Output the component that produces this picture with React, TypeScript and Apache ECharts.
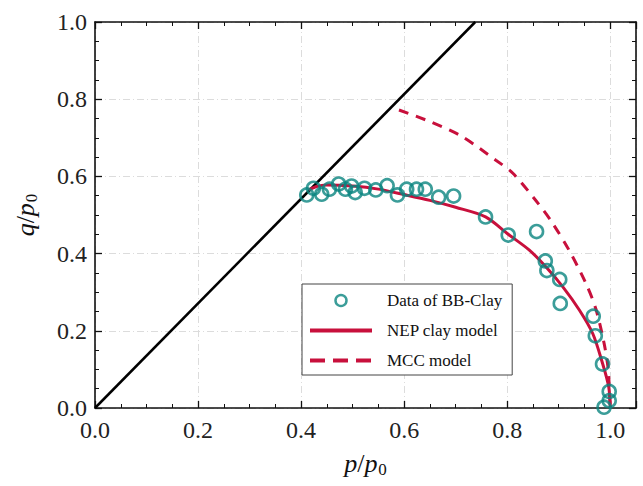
import React, { useEffect, useRef } from "react";
import * as echarts from "echarts";

const bbX = [0.411, 0.424, 0.44, 0.455, 0.473, 0.486, 0.498, 0.505, 0.523, 0.545, 0.567, 0.587, 0.605, 0.624, 0.641, 0.667, 0.696, 0.758, 0.802, 0.857, 0.874, 0.877, 0.902, 0.903, 0.967, 0.971, 0.985, 0.998, 0.998, 0.988];
const bbY = [0.552, 0.569, 0.554, 0.567, 0.58, 0.567, 0.575, 0.558, 0.569, 0.565, 0.576, 0.552, 0.567, 0.567, 0.567, 0.546, 0.549, 0.495, 0.448, 0.457, 0.381, 0.356, 0.333, 0.271, 0.238, 0.187, 0.114, 0.043, 0.019, 0.002];

const nepX = [0.415, 0.43, 0.45, 0.5, 0.55, 0.6, 0.65, 0.7, 0.758, 0.802, 0.843, 0.875, 0.908, 0.94, 0.966, 0.985, 0.997, 1.0];
const nepY = [0.565, 0.574, 0.578, 0.575, 0.567, 0.553, 0.538, 0.52, 0.495, 0.45, 0.409, 0.366, 0.314, 0.254, 0.193, 0.116, 0.055, 0.0];

const mccX = [0.59, 0.65, 0.71, 0.778, 0.811, 0.856, 0.885, 0.92, 0.953, 0.972, 0.988, 0.996, 1.0];
const mccY = [0.772, 0.742, 0.705, 0.642, 0.608, 0.537, 0.485, 0.409, 0.322, 0.257, 0.168, 0.1, 0.0];

const cslX = [0, 0.738];
const cslY = [0, 1.0];

const xTicks = ["0.0", "0.2", "0.4", "0.6", "0.8", "1.0"];
const yTicks = ["0.0", "0.2", "0.4", "0.6", "0.8", "1.0"];

const TEAL = "#0a8580";
const RED = "#c8103c";
const FONT = "Liberation Serif";

const zip = (xs: number[], ys: number[]) => xs.map((x, i) => [x, ys[i]]);

const fmt = (list: string[]) => (v: number) => {
  const s = v.toFixed(1);
  return Math.abs(v * 5 - Math.round(v * 5)) < 1e-6 && list.includes(s) ? s : "";
};

const titleRich = {
  i: { fontFamily: FONT, fontStyle: "italic", fontSize: 26, color: "#111", lineHeight: 30 },
  n: { fontFamily: FONT, fontSize: 26, color: "#111", lineHeight: 30 },
  s: { fontFamily: FONT, fontSize: 17, color: "#111", verticalAlign: "bottom", lineHeight: 17, padding: [0, 0, 0, 1] },
};

const hidden = { color: "rgba(0,0,0,0)", borderColor: "rgba(0,0,0,0)", borderWidth: 0 };

export default function App() {
  const ref = useRef<HTMLDivElement>(null);
  useEffect(() => {
    if (!ref.current) return;
    const chart = echarts.init(ref.current, undefined, { renderer: "svg" });
    const axisLine = { show: true, onZero: false, lineStyle: { color: "#111", width: 1.6 } };
    const splitLine = { show: true, lineStyle: { color: "#dcdcdc", width: 1, type: [7, 3, 1, 3] } };
    const tick = { show: true, inside: true, length: 7, lineStyle: { color: "#111", width: 1.3 } };
    const minorTick = { show: true, splitNumber: 4, length: 4, lineStyle: { color: "#111", width: 1 } };
    const label = { color: "#222", fontFamily: FONT, fontSize: 24 };
    chart.setOption({
      animation: false,
      backgroundColor: "#fff",
      grid: { left: 95, right: 7, top: 22, bottom: 78, containLabel: false },
      xAxis: [
        {
          type: "value", min: 0, max: 1.05, interval: 0.2, position: "bottom",
          axisLine, axisTick: tick, minorTick, splitLine,
          axisLabel: { ...label, margin: 10, formatter: fmt(xTicks) },
          name: "{i|p}{n|/}{i|p}{s|0}", nameLocation: "middle", nameGap: 40,
          nameTextStyle: { rich: titleRich },
        },
        {
          type: "value", min: 0, max: 1.05, interval: 0.2, position: "top",
          axisLine, axisTick: tick, minorTick, splitLine: { show: false }, axisLabel: { show: false },
        },
      ],
      yAxis: [
        {
          type: "value", min: 0, max: 1.0, interval: 0.2, position: "left",
          axisLine, axisTick: tick, minorTick, splitLine,
          axisLabel: { ...label, margin: 8, formatter: fmt(yTicks) },
          name: "{i|q}{n|/}{i|p}{s|0}", nameLocation: "middle", nameGap: 55, nameRotate: 90,
          nameTextStyle: { rich: titleRich },
        },
        {
          type: "value", min: 0, max: 1.0, interval: 0.2, position: "right",
          axisLine, axisTick: tick, minorTick, splitLine: { show: false }, axisLabel: { show: false },
        },
      ],
      legend: {
        orient: "vertical", left: 302, top: 284, width: 206,
        backgroundColor: "#fff", borderColor: "#444", borderWidth: 1, borderRadius: 0,
        padding: [8, 10, 6, 6], itemGap: 13, itemWidth: 62, itemHeight: 11,
        textStyle: { fontFamily: FONT, fontSize: 17, color: "#111", padding: [0, 0, 0, 10] },
        data: [
          { name: "Data of BB-Clay", icon: "circle", itemStyle: { color: "rgba(0,0,0,0)", borderColor: TEAL, borderWidth: 2.5 } },
          { name: "NEP clay model", itemStyle: hidden, lineStyle: { color: RED, width: 4 } },
          { name: "MCC model", itemStyle: hidden, lineStyle: { color: RED, width: 4, type: [15, 8] } },
        ],
      },
      series: [
        {
          name: "CSL", type: "line", data: zip(cslX, cslY), showSymbol: false, symbol: "none",
          lineStyle: { color: "#000", width: 2.5 }, silent: true, z: 2,
        },
        {
          name: "NEP clay model", type: "line", data: zip(nepX, nepY), smooth: 0.3, symbol: "none",
          lineStyle: { color: RED, width: 3 }, itemStyle: { color: RED }, z: 3,
        },
        {
          name: "MCC model", type: "line", data: zip(mccX, mccY), smooth: 0.3, symbol: "none",
          lineStyle: { color: RED, width: 3, type: [10, 8] }, itemStyle: { color: RED }, z: 3,
        },
        {
          name: "Data of BB-Clay", type: "scatter", data: zip(bbX, bbY), symbol: "circle", symbolSize: 13,
          itemStyle: { color: "rgba(0,0,0,0)", borderColor: TEAL, borderWidth: 2.6 }, z: 4,
        },
      ],
    });
    return () => chart.dispose();
  }, []);
  return <div ref={ref} style={{ width: 643, height: 486, position: "absolute", left: 0, top: 0 }} />;
}
